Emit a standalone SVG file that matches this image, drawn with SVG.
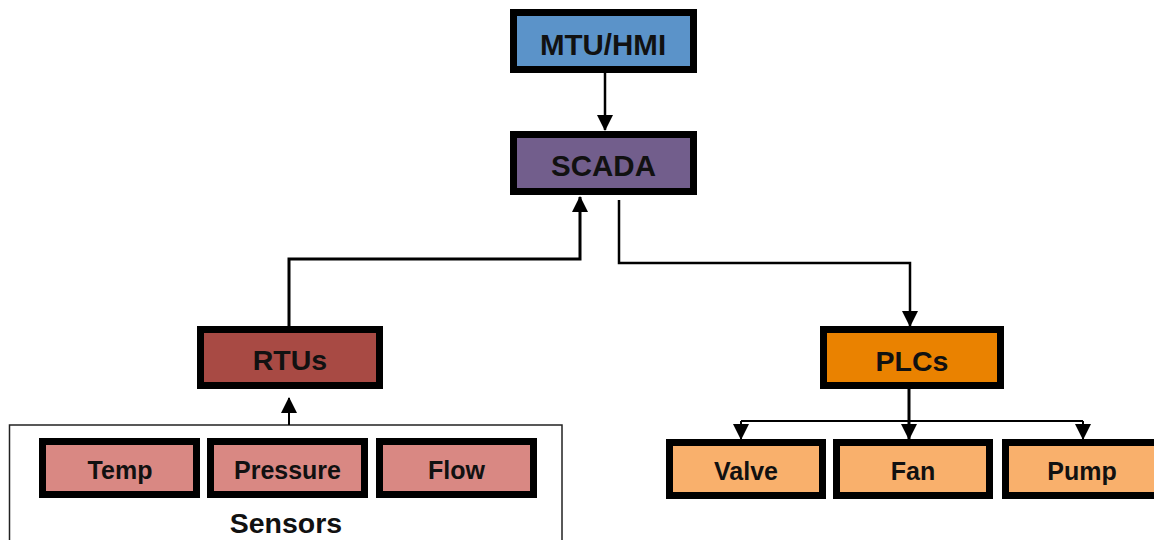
<svg xmlns="http://www.w3.org/2000/svg" width="1154" height="540" viewBox="0 0 1154 540">
<style>
.box{stroke:#000;stroke-width:7}
.lbl{font-family:"Liberation Sans",Arial,sans-serif;font-weight:bold;fill:#111;text-anchor:middle;dominant-baseline:central}
.big{font-size:29.5px}
.mid{font-size:28.5px}
.sm{font-size:25px}
.wire{fill:none;stroke:#000;stroke-linejoin:miter}
</style>
<defs>
<marker id="ah" markerUnits="userSpaceOnUse" markerWidth="16" markerHeight="16" viewBox="0 0 16 16" refX="15" refY="8" orient="auto">
<path d="M0,0 L16,8 L0,16 z" fill="#000"/>
</marker>
</defs>
<rect width="1154" height="540" fill="#fff"/>
<g id="sensors-group">
<rect x="9.5" y="425" width="552.5" height="130" fill="none" stroke="#222" stroke-width="1.5"/>
<text class="lbl mid" x="286" y="523">Sensors</text>
</g>
<g id="connectors">
<path class="wire" d="M605,73 V130" stroke-width="2.5" marker-end="url(#ah)"/>
<path class="wire" d="M289,326 V259 H580 V197" stroke-width="3" marker-end="url(#ah)"/>
<path class="wire" d="M619,200 V263 H910 V326" stroke-width="2.5" marker-end="url(#ah)"/>
<path class="wire" d="M909,389 V439" stroke-width="3" marker-end="url(#ah)"/>
<path class="wire" d="M741,421 V439" stroke-width="2" marker-end="url(#ah)"/>
<path class="wire" d="M1083,421 V439" stroke-width="2" marker-end="url(#ah)"/>
<path class="wire" d="M741,421 H1083" stroke-width="2"/>
<path class="wire" d="M289,425 V398" stroke-width="2" marker-end="url(#ah)"/>
</g>
<g id="mtu">
<rect class="box" x="513.5" y="12.5" width="180" height="57" fill="#5b93c9"/>
<text class="lbl big" x="603" y="44">MTU/HMI</text>
</g>
<g id="scada">
<rect class="box" x="513.5" y="134.5" width="180" height="57" fill="#725e8c"/>
<text class="lbl big" x="603.5" y="165">SCADA</text>
</g>
<g id="rtus">
<rect class="box" x="200.5" y="329.5" width="179" height="56" fill="#a84a44"/>
<text class="lbl mid" x="290" y="360">RTUs</text>
</g>
<g id="plcs">
<rect class="box" x="823.5" y="329.5" width="177" height="56" fill="#ea8200"/>
<text class="lbl mid" x="912" y="361">PLCs</text>
</g>
<g id="temp">
<rect class="box" x="42.5" y="441.5" width="154" height="53" fill="#d98883"/>
<text class="lbl sm" x="120" y="470">Temp</text>
</g>
<g id="pressure">
<rect class="box" x="210.5" y="441.5" width="154" height="53" fill="#d98883"/>
<text class="lbl sm" x="287.5" y="470">Pressure</text>
</g>
<g id="flow">
<rect class="box" x="379.5" y="441.5" width="154" height="53" fill="#d98883"/>
<text class="lbl sm" x="456.5" y="470">Flow</text>
</g>
<g id="valve">
<rect class="box" x="669.5" y="442.5" width="153" height="53" fill="#f9b06c"/>
<text class="lbl sm" x="746" y="471">Valve</text>
</g>
<g id="fan">
<rect class="box" x="836.5" y="442.5" width="153" height="53" fill="#f9b06c"/>
<text class="lbl sm" x="913" y="471">Fan</text>
</g>
<g id="pump">
<rect class="box" x="1005.5" y="442.5" width="153" height="53" fill="#f9b06c"/>
<text class="lbl sm" x="1082" y="471">Pump</text>
</g>
</svg>
